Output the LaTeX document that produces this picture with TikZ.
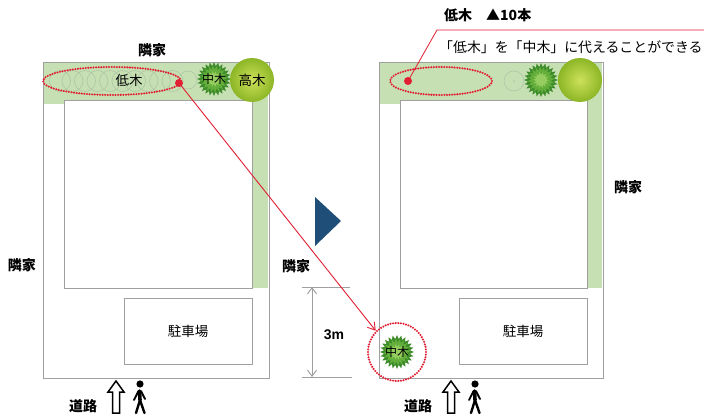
\documentclass[tikz,border=0pt]{standalone}
\usepackage{fontspec}
\newfontfamily\jp{Noto Sans CJK JP}
\usetikzlibrary{shapes.geometric,arrows.meta}
\definecolor{lawn}{RGB}{198,224,180}
\definecolor{edge}{RGB}{160,160,160}
\definecolor{dotred}{RGB}{226,30,50}
\definecolor{navy}{RGB}{31,78,121}
\definecolor{leafdark}{RGB}{62,140,42}
\definecolor{leafmid}{RGB}{100,175,60}
\definecolor{leaflight}{RGB}{150,205,95}
\definecolor{canopy}{RGB}{140,182,38}
\definecolor{canopylight}{RGB}{205,225,90}
\definecolor{shrub}{RGB}{175,198,165}
\tikzset{
  lot/.style={draw=edge, line width=0.9pt, fill=white},
  house/.style={draw=edge, line width=0.9pt, fill=white},
  lbl/.style={font=\jp\fontsize{14}{14}\selectfont\bfseries, inner sep=0pt},
  txt/.style={font=\jp\fontsize{13.5}{13.5}\selectfont, inner sep=0pt},
  zone/.style={draw=dotred, line width=2.3pt, dash pattern=on 0pt off 2.6pt, line cap=round},
  pin/.style={circle, fill=dotred, minimum size=8pt, inner sep=0pt},
  shrubring/.style={draw=shrub, line width=0.6pt},
  tallwood/.style={circle, inner color=canopylight, outer color=canopy, minimum size=44pt, inner sep=0pt},
  roadarrow/.style={draw=black, line width=1.5pt, fill=white, line join=miter},
  person/.style={line width=2.4pt, line cap=round, line join=round},
}
% spiky medium-height tree
\newcommand{\midtree}[3]{% x, y, node name
  \node[star, star points=24, star point ratio=1.3, fill=leafdark, minimum size=34pt, inner sep=0pt] (#3) at (#1,#2) {};
  \node[star, star points=20, star point ratio=1.4, fill=leafmid, minimum size=27pt, inner sep=0pt, rotate=5] at (#1,#2) {};
  \node[star, star points=14, star point ratio=1.6, fill=leaflight, minimum size=16pt, inner sep=0pt, rotate=11] at (#1,#2) {};
}
% outlined up arrow for the road entrance
\newcommand{\uparr}[2]{%
  \draw[roadarrow] (#1,#2) -- ++(8,11) -- ++(-4.5,0) -- ++(0,21) -- ++(-7,0) -- ++(0,-21) -- ++(-4.5,0) -- cycle;
}
% walking pedestrian
\newcommand{\walker}[2]{%
  \fill (#1,#2) circle (3.6pt);
  \draw[person, line width=3.6pt] (#1-0.5,#2+7) -- (#1,#2+16);
  \draw[person] (#1,#2+16) -- (#1-4,#2+29);
  \draw[person] (#1,#2+16) -- (#1+4.5,#2+29);
  \draw[person, line width=1.8pt] (#1-1.5,#2+7) -- (#1-6,#2+16);
  \draw[person, line width=1.8pt] (#1+1,#2+7) -- (#1+5,#2+15);
}
\begin{document}
\begin{tikzpicture}[x=1pt,y=-1pt]
\useasboundingbox[fill=white] (0,0) rectangle (704,417);

% ---------- current layout ----------
\node[lbl] (nbTopL) at (152,50) {隣家};
\node[lbl] (nbLeftL) at (22,265) {隣家};
\draw[lot] (43,62) rectangle (269,378);
\fill[lawn] (44,63) rectangle (268,104);
\fill[lawn] (252,63) rectangle (268,288);
\draw[house] (64,100) rectangle (252,288);
\node[draw=edge, line width=0.9pt, minimum width=128pt, minimum height=66pt, inner sep=0pt] (parkL) at (188,331) {};
\node[lbl, font=\jp\fontsize{13.5}{13.5}\selectfont] at (parkL) {駐車場};

\foreach \i in {0,...,9} \draw[shrubring] (60+12.5*\i,81) circle (10.5pt);
\draw[shrubring] (188,80) circle (9pt);
\midtree{214}{79}{midL}
\node[tallwood] (tallL) at (252,80) {};
\node[txt] at (tallL) {高木};
\node[txt, font=\jp\fontsize{12}{12}\selectfont] at (midL) {中木};
\draw[zone] (112,81) ellipse (69pt and 14pt);
\node[txt] (lowL) at (129,80) {低木};
\node[pin] (pinL) at (179,83) {};

\node[lbl] (roadL) at (83,406) {道路};
\uparr{116}{381}
\walker{140}{384}

% ---------- transition mark ----------
\fill[navy] (315,197) -- (341,221) -- (315,246) -- cycle;

% ---------- revised layout ----------
\node[lbl] (nbLeftR) at (296,266) {隣家};
\node[lbl] (nbRightR) at (628,187) {隣家};
\draw[lot] (379,62) rectangle (603,378);
\fill[lawn] (380,63) rectangle (602,104);
\fill[lawn] (587,63) rectangle (602,288);
\draw[house] (400,100) rectangle (587,288);
\node[draw=edge, line width=0.9pt, minimum width=128pt, minimum height=66pt, inner sep=0pt] (parkR) at (523,331) {};
\node[lbl, font=\jp\fontsize{13.5}{13.5}\selectfont] at (parkR) {駐車場};

\draw[shrubring] (514,81) circle (10pt);
\fill[shrub] (514,81) circle (0.8pt);
\midtree{541}{80}{midR}
\node[tallwood] (tallR) at (580,80) {};
\draw[zone] (441,81) ellipse (51pt and 14pt);
\node[pin] (pinR) at (408,81) {};

% relocated medium tree at the corner
\midtree{397}{352}{midNew}
\node[txt, font=\jp\fontsize{12}{12}\selectfont] at (midNew) {中木};
\node[circle, draw=dotred, line width=2.3pt, dash pattern=on 0pt off 2.6pt, line cap=round, minimum size=58pt, inner sep=0pt] (ringNew) at (397,352) {};

% 3 m dimension
\coordinate (dimTop) at (312,287);
\coordinate (dimBot) at (312,377);
\draw[edge, line width=0.9pt] (302,287) -- (350,287);
\draw[edge, line width=0.9pt] (302,377) -- (352,377);
\draw[edge, line width=1pt, {Straight Barb[length=6pt,width=9pt]}-{Straight Barb[length=6pt,width=9pt]}] (dimTop) -- (dimBot);
\node[lbl, font=\fontspec{Liberation Sans}\fontsize{14}{14}\selectfont\bfseries] (dimLabel) at (334,335) {3m};

\node[lbl] (roadR) at (418,406) {道路};
\uparr{451}{381}
\walker{475}{384}

% callout for the low shrubs
\coordinate (calloutKnee) at (437,30);
\coordinate (calloutEnd) at (704,30);
\draw[dotred, line width=0.8pt] (pinR.center) -- (calloutKnee) -- (calloutEnd);
\node[lbl, anchor=west] (calloutHead) at (444,15) {低木\quad ▲10本};
\node[txt, anchor=west, font=\jp\fontsize{13.9}{13.9}\selectfont] (calloutBody) at (439,47) {「低木」を「中木」に代えることができる};

% shrub moved to the corner
\draw[dotred, line width=0.9pt, -{Straight Barb[length=7pt,width=9pt]}] (pinL.center) -- (ringNew.north west);
\end{tikzpicture}
\end{document}
